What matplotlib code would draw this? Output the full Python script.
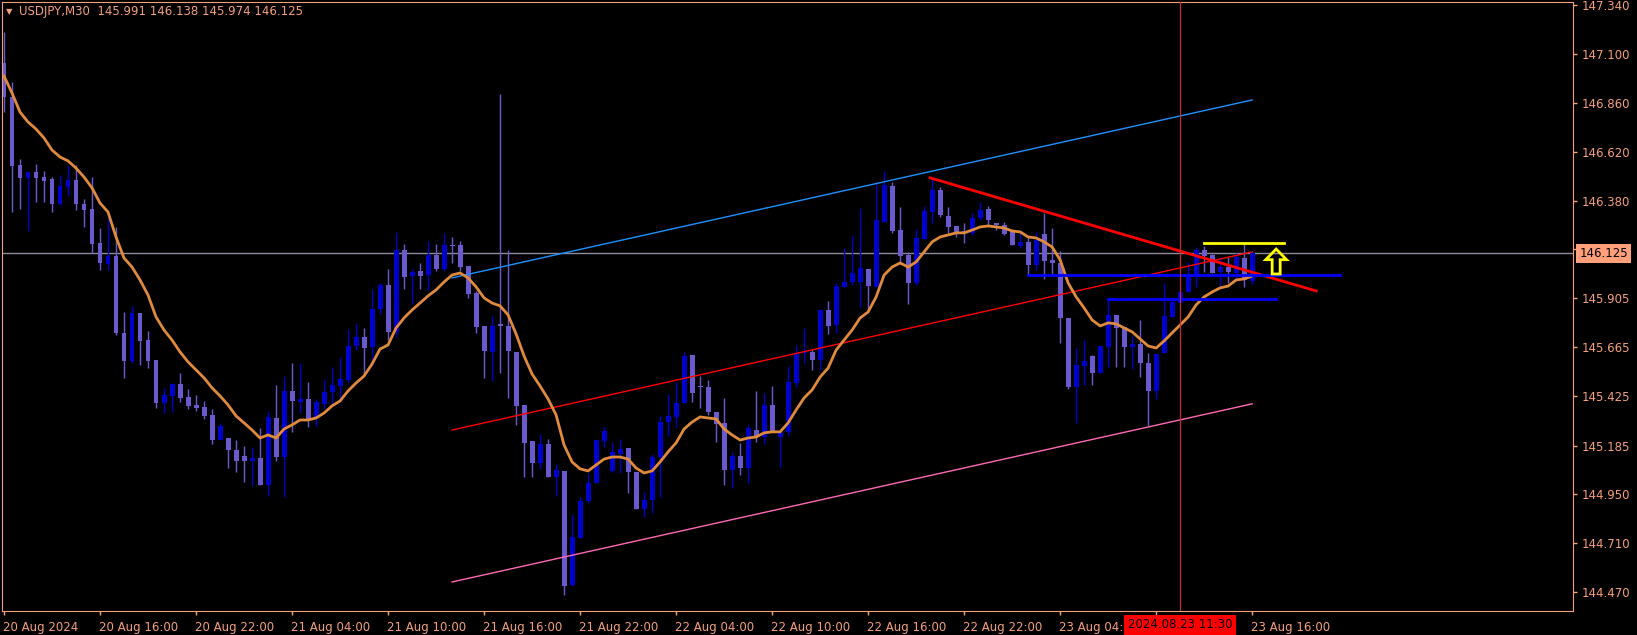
import numpy as np
import matplotlib
matplotlib.use("Agg")
import matplotlib.pyplot as plt
import matplotlib.transforms as mtransforms
from matplotlib.patches import Polygon

# USDJPY M30 candles, bar 0 = 20 Aug 2024 10:00
OPEN = [147.056, 146.890, 146.558, 146.494, 146.523, 146.499, 146.489, 146.367, 146.450, 146.484,
        146.367, 146.342, 146.176, 146.073, 146.113, 145.736, 145.599, 145.834, 145.702, 145.604,
        145.393, 145.428, 145.487, 145.423, 145.384, 145.374, 145.335, 145.213, 145.223, 145.164,
        145.135, 145.110, 145.125, 144.993, 145.320, 145.130, 145.452, 145.398, 145.413, 145.325,
        145.388, 145.447, 145.476, 145.506, 145.672, 145.716, 145.667, 145.855, 145.968, 145.738,
        146.143, 146.016, 146.041, 146.021, 146.119, 146.046, 146.168, 146.168, 146.062, 145.930,
        145.769, 145.642, 145.779, 145.769, 145.644, 145.384, 145.208, 145.101, 145.194, 145.033,
        145.061, 144.503, 144.733, 144.914, 145.002, 145.207, 145.061, 145.144, 145.174, 145.057,
        144.875, 144.919, 145.130, 145.301, 145.325, 145.394, 145.628, 145.477, 145.472, 145.350,
        145.296, 145.066, 145.135, 145.076, 145.262, 145.228, 145.384, 145.228, 145.252, 145.492,
        145.638, 145.643, 145.604, 145.849, 145.775, 145.961, 145.985, 145.985, 146.049, 145.961,
        146.279, 146.455, 146.240, 146.118, 145.981, 146.196, 146.328, 146.436, 146.308, 146.259,
        146.235, 146.225, 146.298, 146.342, 146.274, 146.264, 146.230, 146.161, 146.181, 146.068,
        146.220, 146.093, 146.078, 145.810, 145.472, 145.575, 145.623, 145.540, 145.668, 145.824,
        145.766, 145.668, 145.682, 145.589, 145.452, 145.638, 145.815, 145.883, 145.936, 146.010,
        146.142, 146.118, 146.034, 146.059, 146.029, 146.103, 145.991]
CLOSE = [146.890, 146.553, 146.494, 146.523, 146.494, 146.479, 146.367, 146.455, 146.484, 146.367,
         146.338, 146.171, 146.078, 146.113, 145.736, 145.599, 145.834, 145.697, 145.599, 145.393,
         145.433, 145.487, 145.418, 145.379, 145.369, 145.330, 145.213, 145.281, 145.164, 145.110,
         145.110, 145.125, 144.993, 145.325, 145.130, 145.452, 145.403, 145.413, 145.315, 145.398,
         145.447, 145.481, 145.511, 145.672, 145.716, 145.662, 145.853, 145.968, 145.738, 146.143,
         146.007, 146.036, 146.016, 146.119, 146.046, 146.168, 146.163, 146.060, 145.925, 145.764,
         145.647, 145.769, 145.769, 145.647, 145.379, 145.199, 145.101, 145.194, 145.033, 145.067,
         144.498, 144.737, 144.914, 145.002, 145.212, 145.256, 145.154, 145.168, 145.057, 144.875,
         144.919, 145.130, 145.301, 145.330, 145.394, 145.623, 145.442, 145.472, 145.350, 145.291,
         145.066, 145.135, 145.076, 145.272, 145.228, 145.384, 145.252, 145.252, 145.496, 145.638,
         145.643, 145.604, 145.849, 145.770, 145.966, 145.985, 146.029, 146.054, 145.966, 146.289,
         146.460, 146.235, 146.113, 145.981, 146.201, 146.333, 146.436, 146.313, 146.254, 146.225,
         146.225, 146.298, 146.338, 146.289, 146.264, 146.220, 146.166, 146.181, 146.068, 146.191,
         146.088, 146.078, 145.810, 145.472, 145.580, 145.599, 145.540, 145.672, 145.824, 145.761,
         145.668, 145.682, 145.589, 145.452, 145.633, 145.819, 145.888, 145.936, 146.010, 146.142,
         146.113, 146.029, 146.059, 146.034, 146.108, 145.995, 146.125]
HIGH = [147.208, 146.963, 146.587, 146.523, 146.562, 146.528, 146.499, 146.509, 146.558, 146.558,
        146.391, 146.499, 146.250, 146.303, 146.254, 145.839, 145.868, 145.834, 145.746, 145.604,
        145.467, 145.492, 145.540, 145.462, 145.433, 145.403, 145.364, 145.296, 145.223, 145.213,
        145.184, 145.179, 145.272, 145.354, 145.482, 145.526, 145.589, 145.589, 145.496, 145.413,
        145.511, 145.569, 145.618, 145.755, 145.780, 145.760, 145.951, 145.982, 146.046, 146.227,
        146.173, 146.046, 146.080, 146.183, 146.173, 146.222, 146.207, 146.183, 146.062, 145.940,
        145.769, 145.818, 146.905, 146.140, 145.644, 145.384, 145.208, 145.243, 145.218, 145.096,
        145.061, 144.850, 144.933, 145.051, 145.217, 145.276, 145.202, 145.217, 145.174, 145.057,
        144.958, 145.144, 145.330, 145.438, 145.496, 145.643, 145.628, 145.526, 145.506, 145.350,
        145.418, 145.154, 145.198, 145.286, 145.452, 145.443, 145.477, 145.252, 145.575, 145.677,
        145.760, 145.653, 145.849, 145.892, 145.981, 146.152, 146.215, 146.347, 146.049, 146.470,
        146.528, 146.475, 146.352, 146.132, 146.245, 146.357, 146.494, 146.450, 146.352, 146.259,
        146.274, 146.323, 146.377, 146.357, 146.274, 146.279, 146.245, 146.240, 146.205, 146.230,
        146.323, 146.250, 146.137, 145.810, 145.663, 145.702, 145.628, 145.672, 145.902, 145.824,
        145.766, 145.721, 145.800, 145.638, 145.633, 145.981, 145.900, 145.946, 146.083, 146.157,
        146.162, 146.122, 146.108, 146.108, 146.127, 146.171, 146.138]
LOW = [146.817, 146.328, 146.342, 146.235, 146.377, 146.377, 146.328, 146.362, 146.406, 146.338,
       146.254, 146.127, 146.044, 146.044, 145.726, 145.516, 145.589, 145.579, 145.565, 145.369,
       145.345, 145.350, 145.398, 145.364, 145.354, 145.315, 145.193, 145.213, 145.076, 145.057,
       145.008, 144.988, 144.993, 144.939, 145.110, 144.934, 145.252, 145.345, 145.276, 145.281,
       145.364, 145.383, 145.413, 145.496, 145.652, 145.535, 145.574, 145.826, 145.699, 145.718,
       145.953, 145.879, 145.953, 145.948, 146.041, 146.041, 146.080, 146.041, 145.906, 145.735,
       145.515, 145.500, 145.539, 145.417, 145.287, 145.033, 145.033, 145.072, 145.033, 144.939,
       144.454, 144.498, 144.733, 144.904, 145.002, 145.178, 145.056, 145.051, 144.954, 144.875,
       144.836, 144.856, 144.934, 145.232, 145.276, 145.394, 145.398, 145.369, 145.335, 145.203,
       144.993, 144.978, 145.042, 145.003, 145.203, 145.193, 145.252, 145.081, 145.237, 145.472,
       145.589, 145.555, 145.555, 145.731, 145.736, 145.961, 145.971, 145.863, 145.844, 145.961,
       146.279, 146.225, 146.083, 145.878, 145.971, 146.196, 146.274, 146.303, 146.225, 146.205,
       146.176, 146.215, 146.289, 146.254, 146.240, 146.215, 146.166, 146.152, 146.020, 146.044,
       146.000, 146.020, 145.687, 145.462, 145.296, 145.482, 145.482, 145.540, 145.570, 145.570,
       145.570, 145.560, 145.521, 145.281, 145.413, 145.638, 145.815, 145.883, 145.936, 145.961,
       146.034, 146.029, 145.961, 145.981, 146.000, 145.961, 145.974]
# moving average (orange line), one value per bar
MA = [146.992, 146.909, 146.816, 146.767, 146.733, 146.689, 146.630, 146.596, 146.577, 146.542,
      146.498, 146.445, 146.371, 146.327, 146.205, 146.102, 146.058, 145.995, 145.921, 145.814,
      145.750, 145.701, 145.643, 145.594, 145.555, 145.516, 145.467, 145.428, 145.384, 145.330,
      145.296, 145.261, 145.222, 145.237, 145.222, 145.266, 145.286, 145.310, 145.310, 145.320,
      145.344, 145.379, 145.403, 145.452, 145.491, 145.525, 145.584, 145.657, 145.677, 145.760,
      145.809, 145.848, 145.882, 145.917, 145.946, 145.985, 146.019, 146.029, 146.005, 145.961,
      145.907, 145.882, 145.868, 145.824, 145.731, 145.623, 145.535, 145.476, 145.413, 145.335,
      145.188, 145.105, 145.071, 145.061, 145.090, 145.119, 145.129, 145.129, 145.119, 145.075,
      145.051, 145.061, 145.105, 145.154, 145.198, 145.266, 145.300, 145.325, 145.320, 145.315,
      145.266, 145.237, 145.212, 145.222, 145.227, 145.247, 145.252, 145.252, 145.296, 145.359,
      145.418, 145.457, 145.520, 145.564, 145.652, 145.701, 145.750, 145.809, 145.838, 145.912,
      146.019, 146.058, 146.078, 146.058, 146.083, 146.132, 146.181, 146.205, 146.215, 146.225,
      146.225, 146.239, 146.254, 146.259, 146.254, 146.249, 146.234, 146.230, 146.205, 146.200,
      146.181, 146.156, 146.093, 145.980, 145.912, 145.858, 145.799, 145.770, 145.785, 145.780,
      145.760, 145.741, 145.706, 145.672, 145.662, 145.697, 145.736, 145.775, 145.814, 145.873,
      145.912, 145.936, 145.956, 145.965, 145.995, 146.000, 146.014]

# drawn objects: (bar, price) pairs
CH_BARS = [56, 156]
CH_UPPER = [146.005, 146.875]
CH_MID = [145.261, 146.132]
CH_LOWER = [144.518, 145.389]
TREND_BARS = [115.75, 164]
TREND_PRICE = [146.494, 145.941]
LEVEL1_BARS, LEVEL1 = [128, 167], 146.019
LEVEL2_BARS, LEVEL2 = [138, 159], 145.902
YELLOW_BARS, YELLOW = [150, 160], 146.176
ARROW_BAR, ARROW_TIP, ARROW_BASE = 159, 146.146, 146.024
LAST_PRICE = 146.125
CROSS_BAR = 147

YTICKS = [147.340, 147.100, 146.860, 146.620, 146.380, 146.145, 145.905,
          145.665, 145.425, 145.185, 144.950, 144.710, 144.470]
XTICK_BARS = list(range(0, 157, 12))
# the 23 Aug 10:00 slot sits under the crosshair date box, so it has no label
XTICK_LABELS = ["20 Aug 2024", "20 Aug 16:00", "20 Aug 22:00", "21 Aug 04:00", "21 Aug 10:00",
                "21 Aug 16:00", "21 Aug 22:00", "22 Aug 04:00", "22 Aug 10:00", "22 Aug 16:00",
                "22 Aug 22:00", "23 Aug 04:00", "", "23 Aug 16:00"]

AXC = "#F4A07A"
BULL, BEAR = "#0000CD", "#6A5ACD"

W, H = 1637, 635
fig = plt.figure(figsize=(W / 100, H / 100), dpi=100, facecolor="black")
ax = fig.add_axes([2 / W, (H - 611) / H, 1571 / W, 609 / H], facecolor="black")

o, c, hi, lo = map(np.array, (OPEN, CLOSE, HIGH, LOW))
x = np.arange(len(o))
cols = np.where(c >= o, BULL, BEAR)
ax.axhline(LAST_PRICE, color="#8c8c9c", lw=1, zorder=1)
ax.vlines(x, lo, hi, colors=cols, lw=1, zorder=2)
ax.bar(x, np.maximum(np.abs(c - o), 0.004), bottom=np.minimum(o, c), width=0.62,
       color=cols, lw=0, zorder=2)

ax.plot(CH_BARS, CH_UPPER, color="#1E90FF", lw=1, zorder=3)
ax.plot(CH_BARS, CH_MID, color="#FF0000", lw=1, zorder=3)
ax.plot(CH_BARS, CH_LOWER, color="#FF69B4", lw=1, zorder=3)
ax.plot(x, MA, color="#E08A3C", lw=2, zorder=4)
ax.plot(TREND_BARS, TREND_PRICE, color="#FF0000", lw=2, zorder=5)
ax.plot(LEVEL1_BARS, [LEVEL1] * 2, color="#0000FF", lw=2, zorder=5)
ax.plot(LEVEL2_BARS, [LEVEL2] * 2, color="#0000FF", lw=2, zorder=5)
ax.plot(YELLOW_BARS, [YELLOW] * 2, color="#FFFF00", lw=2, zorder=5)
ax.axvline(CROSS_BAR, color="#C0302A", lw=0.9, zorder=5)

neck = ARROW_TIP - 0.052
b = ARROW_BAR
arrow = Polygon([(b - 0.5, ARROW_BASE), (b + 0.5, ARROW_BASE), (b + 0.5, neck), (b + 1.3, neck),
                 (b, ARROW_TIP), (b - 1.3, neck), (b - 0.5, neck)], closed=True,
                facecolor="none", edgecolor="#FFFF00", lw=2, zorder=6)
ax.add_patch(arrow)

ax.set_xlim(-0.25, 196.1)
ax.set_ylim(144.376, 147.354)
for s in ax.spines.values():
    s.set_color(AXC)
ax.yaxis.tick_right()
ax.set_yticks(YTICKS)
ax.set_yticklabels([f"{v:.3f}" for v in YTICKS])
ax.set_xticks(XTICK_BARS)
ax.set_xticklabels(XTICK_LABELS, ha="left")
ax.tick_params(colors=AXC, labelsize=8.5, length=3, width=1, pad=3)
ax.tick_params(axis="x", pad=4)
for t in ax.get_xticklabels():
    t.set_transform(t.get_transform() + mtransforms.ScaledTranslation(-1 / 100, 0, fig.dpi_scale_trans))

ty = mtransforms.blended_transform_factory(ax.transAxes, ax.transData)
ax.text(1.004, LAST_PRICE, f"{LAST_PRICE:.3f}", transform=ty, ha="left", va="center",
        fontsize=8.5, color="black", zorder=10, clip_on=False,
        bbox=dict(boxstyle="square,pad=0.25", fc="#FFA07A", ec="none"))
tx = mtransforms.blended_transform_factory(ax.transData, ax.transAxes)
ax.text(CROSS_BAR, -0.012, "2024.08.23 11:30", transform=tx, ha="center", va="top",
        fontsize=8.5, color="black", zorder=10, clip_on=False,
        bbox=dict(boxstyle="square,pad=0.3", fc="#FF0000", ec="none"))

fig.text(6 / W, 1 - 12 / H, "\u25bc", color=AXC, fontsize=6, va="center", ha="left")
fig.text(19 / W, 1 - 12 / H, "USDJPY,M30  145.991 146.138 145.974 146.125", color=AXC,
         fontsize=8.5, va="center", ha="left")

fig.savefig("out.png", dpi=100, facecolor="black")
